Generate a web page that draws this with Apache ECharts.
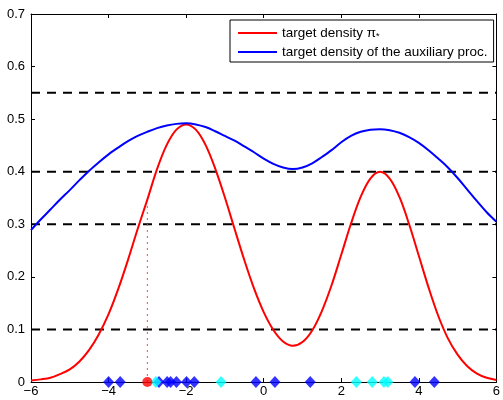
<!DOCTYPE html>
<html>
<head>
<meta charset="utf-8">
<script src="https://cdn.jsdelivr.net/npm/echarts@6/dist/echarts.min.js"></script>
<style>
html,body{margin:0;padding:0;background:#fff;}
#c{width:503px;height:400px;}
</style>
</head>
<body>
<div id="c"></div>
<script>
// x grid of the curves
var xs = [-6,-5.75,-5.5,-5.25,-5,-4.75,-4.5,-4.25,-4,-3.75,-3.5,-3.25,-3,-2.75,-2.5,-2.25,-2,-1.75,-1.5,-1.25,-1,-0.75,-0.5,-0.25,0,0.25,0.5,0.75,1,1.25,1.5,1.75,2,2.25,2.5,2.75,3,3.25,3.5,3.75,4,4.25,4.5,4.75,5,5.25,5.5,5.75,6];
// target density pi_* (red)
var redDensity = [0.003,0.005,0.008,0.015,0.024,0.039,0.061,0.091,0.129,0.177,0.232,0.291,0.347,0.405,0.451,0.480,0.490,0.480,0.451,0.406,0.351,0.291,0.232,0.178,0.133,0.099,0.077,0.069,0.076,0.098,0.135,0.184,0.242,0.301,0.352,0.387,0.400,0.387,0.352,0.300,0.240,0.180,0.126,0.083,0.052,0.030,0.016,0.008,0.004];
// target density of the auxiliary process (blue)
var blueDensity = [0.289,0.309,0.328,0.347,0.365,0.384,0.402,0.418,0.433,0.446,0.458,0.468,0.476,0.483,0.488,0.491,0.492,0.490,0.485,0.477,0.468,0.459,0.448,0.437,0.425,0.415,0.408,0.405,0.408,0.416,0.428,0.441,0.456,0.468,0.476,0.480,0.481,0.479,0.474,0.466,0.455,0.441,0.425,0.408,0.388,0.366,0.344,0.323,0.305];
// horizontal dashed levels
var levels = [0.1, 0.3, 0.4, 0.55];
// sample points on the x axis
var bluePoints = [-4.0,-3.70,-2.70,-2.49,-2.40,-2.25,-1.99,-1.79,-0.20,0.29,1.20,3.90,4.40];
var cyanPoints = [-2.78,-1.10,2.39,2.80,3.10,3.20];
var redPoints = [-3.0];
// dotted vertical marker
var dottedX = -3.0;
var dottedTop = 0.342;
// axis ticks
var xTicks = {min: -6, max: 6, interval: 2};
var yTicks = {min: 0, max: 0.7, interval: 0.1};

var redName = 'target density π*';
var blueName = 'target density of the auxiliary proc.';
var FONT = '"Liberation Sans", Arial, Helvetica, sans-serif';
var FS = 13;
var LFS = 13.5;

function zip(a, b){ return a.map(function(v,i){ return [v, b[i]]; }); }
function onAxis(p){ return p.map(function(v){ return [v, 0]; }); }

var series = [];
levels.forEach(function(l){
  series.push({
    type:'line', data:[[xTicks.min,l],[xTicks.max,l]], showSymbol:false, silent:true,
    lineStyle:{color:'#000', width:2, type:[9,7]}, z:2
  });
});
series.push({
  type:'line', data:[[dottedX,0],[dottedX,dottedTop]], showSymbol:false, silent:true,
  lineStyle:{color:'#ff4a4a', width:1, type:[2,4]}, z:2
});
series.push({
  name: redName, type:'line', data: zip(xs, redDensity), smooth:0.35, showSymbol:false,
  lineStyle:{color:'#ff0000', width:2}, itemStyle:{color:'#ff0000'}, z:3
});
series.push({
  name: blueName, type:'line', data: zip(xs, blueDensity), smooth:0.35, showSymbol:false,
  lineStyle:{color:'#0000ff', width:2}, itemStyle:{color:'#0000ff'}, z:3
});
series.push({
  type:'scatter', data: onAxis(bluePoints), symbol:'diamond', symbolSize:[11,12], clip:false,
  itemStyle:{color:'#0000ff'}, z:5
});
series.push({
  type:'scatter', data: onAxis(cyanPoints), symbol:'diamond', symbolSize:[11,12], clip:false,
  itemStyle:{color:'#00ffff'}, z:6
});
series.push({
  type:'scatter', data: onAxis(redPoints), symbol:'circle', symbolSize:10, clip:false,
  itemStyle:{color:'#ff0000'}, z:7
});

var chart = echarts.init(document.getElementById('c'), null, {renderer:'canvas'});
var axisCommon = {
  axisLine:{show:true, onZero:false, lineStyle:{color:'#000', width:1}},
  axisTick:{show:true, inside:true, length:4, lineStyle:{color:'#000', width:1}},
  splitLine:{show:false}
};
chart.setOption({
  animation:false,
  backgroundColor:'#fff',
  grid:{left:31, right:3, top:14, bottom:18, containLabel:false},
  legend:{
    data:[redName, blueName],
    orient:'vertical', left:230, top:20,
    padding:[5,6,3,8], itemGap:4,
    itemWidth:39, itemHeight:2, icon:'rect',
    backgroundColor:'#fff', borderColor:'#000', borderWidth:1, borderRadius:0,
    selectedMode:false,
    formatter:function(n){
      if (n === redName) return '{t|target density π}{s|*}';
      return '{t|' + n + '}';
    },
    textStyle:{
      fontFamily:FONT, fontSize:LFS, color:'#000',
      rich:{
        t:{fontFamily:FONT, fontSize:LFS, color:'#000', lineHeight:16},
        s:{fontFamily:FONT, fontSize:9, color:'#000', lineHeight:16, verticalAlign:'bottom', padding:[7,0,0,0]}
      }
    }
  },
  xAxis:[
    Object.assign({
      type:'value', position:'bottom', min:xTicks.min, max:xTicks.max, interval:xTicks.interval,
      axisLabel:{show:true, margin:3, color:'#000', fontFamily:FONT, fontSize:FS,
        formatter:function(v){ return String(v).replace('-', '\u2212'); }}
    }, axisCommon),
    Object.assign({
      type:'value', position:'top', min:xTicks.min, max:xTicks.max, interval:xTicks.interval,
      axisLabel:{show:false}
    }, axisCommon)
  ],
  yAxis:[
    Object.assign({
      type:'value', position:'left', min:yTicks.min, max:yTicks.max, interval:yTicks.interval,
      axisLabel:{show:true, margin:6, color:'#000', fontFamily:FONT, fontSize:FS,
        formatter:function(v){ return String(Math.round(v*10)/10); }}
    }, axisCommon),
    Object.assign({
      type:'value', position:'right', min:yTicks.min, max:yTicks.max, interval:yTicks.interval,
      axisLabel:{show:false}
    }, axisCommon)
  ],
  series: series
});
</script>
</body>
</html>
